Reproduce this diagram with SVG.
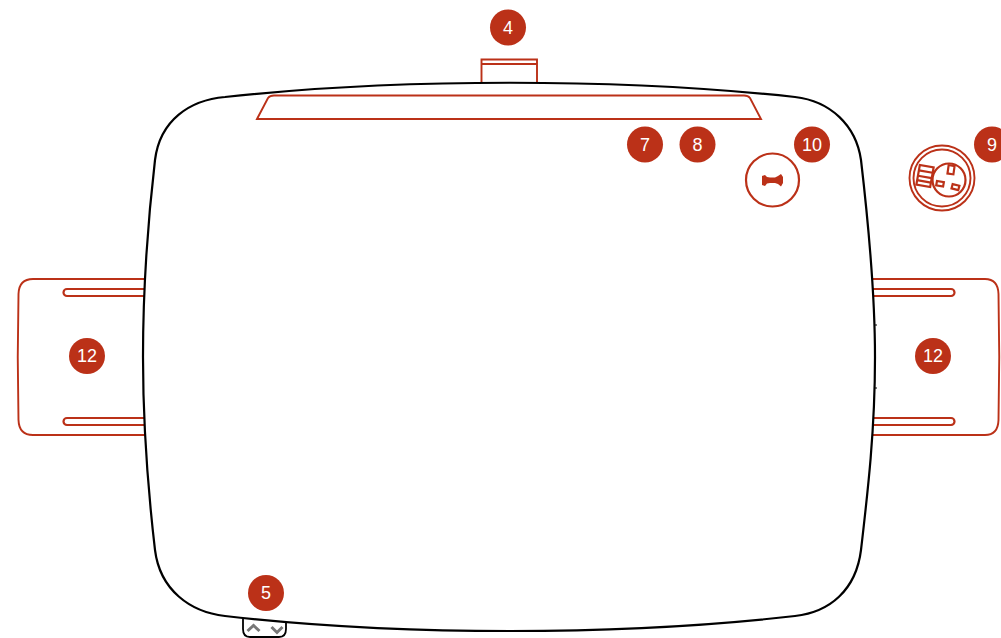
<svg xmlns="http://www.w3.org/2000/svg" width="1001" height="638" viewBox="0 0 1001 638">
<style>
.r{fill:none;stroke:#bb3118;stroke-width:1.9}
.s{fill:none;stroke:#bb3118;stroke-width:2.2}
.b{fill:#bb3118}
.t{fill:#fff;font-family:"Liberation Sans",Arial,sans-serif;font-size:18px;text-anchor:middle}
.k{fill:none;stroke:#000;stroke-width:2.2}
.g{fill:none;stroke:#777;stroke-width:3}
</style>
<rect width="1001" height="638" fill="#fff"/>
<g id="handle-left">
<path class="r" d="M145 279H33Q19 279 18.500 294Q17 357 18.500 420Q19 435 33 435H145"/>
<path class="s" d="M145 289H67A3.500 3.500 0 0 0 67 296H145"/>
<path class="s" d="M145 418H67A3.500 3.500 0 0 0 67 425H145"/>
</g>
<g id="handle-right">
<path class="r" d="M873 279H985Q998 279 998.500 294Q1000 357 998.500 420Q998 435 985 435H873"/>
<path class="s" d="M873 289H951A3.500 3.500 0 0 1 951 296H873"/>
<path class="s" d="M873 418H951A3.500 3.500 0 0 1 951 425H873"/>
</g>
<g id="tab-top">
<path class="r" d="M481.500 82V59.500H537V82M481.500 64H537"/>
</g>
<g id="panel-top">
<path class="r" d="M257 119L268 98Q270 95.500 274 95.500H744Q748 95.500 750 98L761 119Z"/>
</g>
<g id="buttons">
<path d="M243 619V629Q243 637 250 637H279Q286 637 286 629V622" fill="none" stroke="#000" stroke-width="1.800"/>
<path class="g" d="M247.500 631L253.500 625.500L259.500 631M271.500 627L277 632.500L282.500 627"/>
</g>
<g id="body">
<path class="k" d="M225 97C400 78 620 78 795 97C830 101 856 125 861 160C868 220 875 290 875 357C875 430 868 490 861 550C856 590 830 612 795 616C620 636 400 636 225 616C190 612 160 590 155 550C148 490 143 430 143 357C143 290 148 220 155 160C160 120 190 100 225 97Z"/>
<path d="M875 325H877M875 388H877" stroke="#000" stroke-width="1"/>
</g>
<g id="dial">
<circle class="s" cx="772.500" cy="180" r="26.500"/>
<path class="b" d="M762 176L765 175L767 177L770 177.500H775L778 176L781 174L783 177V183L781 186.500L778 184L775 183H770L767 183.500L765 186L762 185Z"/>
</g>
<g id="socket">
<circle class="r" cx="942" cy="178" r="32.500"/>
<circle class="r" cx="942" cy="178" r="28.500"/>
<circle class="s" cx="949" cy="180" r="16.500"/>
<g transform="rotate(10 925 176)"><rect x="918" y="166" width="14" height="20" class="s"/><path class="s" d="M918 171.500H932M918 177H932M918 181.500H932"/></g>
<rect class="s" x="948" y="165.500" width="6" height="8.500" transform="rotate(8 951 170)"/>
<rect class="s" x="936.500" y="181.500" width="7" height="4.500" transform="rotate(10 940 184)"/>
<rect class="s" x="952" y="185" width="7" height="4.500" transform="rotate(15 956 187)"/>
</g>
<g id="badges">
<g id="badge-4"><circle class="b" cx="508" cy="27.500" r="18"/><text class="t" x="508" y="33.800">4</text></g>
<g id="badge-7"><circle class="b" cx="645" cy="144.500" r="18"/><text class="t" x="645" y="150.800">7</text></g>
<g id="badge-8"><circle class="b" cx="697.500" cy="144.500" r="18"/><text class="t" x="697.500" y="150.800">8</text></g>
<g id="badge-10"><circle class="b" cx="812" cy="144.500" r="18"/><text class="t" x="812" y="150.800">10</text></g>
<g id="badge-9"><circle class="b" cx="992" cy="144.500" r="18"/><text class="t" x="992" y="150.800">9</text></g>
<g id="badge-12-left"><circle class="b" cx="87" cy="356" r="18"/><text class="t" x="87" y="362.300">12</text></g>
<g id="badge-12-right"><circle class="b" cx="933" cy="356" r="18"/><text class="t" x="933" y="362.300">12</text></g>
<g id="badge-5"><circle class="b" cx="266" cy="593" r="18"/><text class="t" x="266" y="599.300">5</text></g>
</g>
<g id="connectors"/>
</svg>
